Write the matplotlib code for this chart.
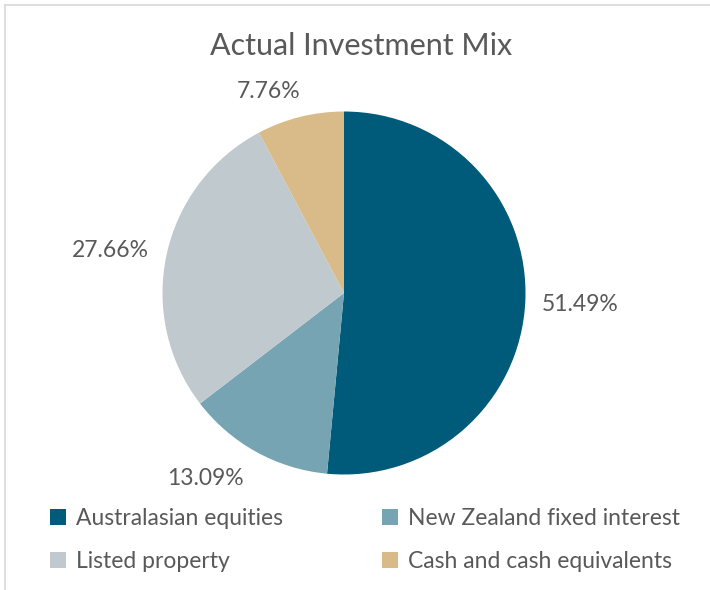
import matplotlib
matplotlib.use("Agg")
import matplotlib.pyplot as plt
import numpy as np
from matplotlib.patches import Patch
from matplotlib.lines import Line2D

categories = ["Australasian equities", "New Zealand fixed interest",
              "Listed property", "Cash and cash equivalents"]
values = [51.49, 13.09, 27.66, 7.76]
labels = ["51.49%", "13.09%", "27.66%", "7.76%"]
colors = ["#005A7A", "#76A4B2", "#C0C9CE", "#D9BB89"]

# label placement (distance in radii, angular nudge in degrees)
label_dist = [1.30, 1.275, 1.31, 1.183]
label_nudge = [0.0, -7.8, 2.0, 6.6]

plt.rcParams['font.family'] = ['Lato', 'DejaVu Sans']
text_color = "#595959"

fig = plt.figure(figsize=(7.1, 5.9), dpi=100)
fig.patch.set_facecolor("white")

# border (top and left visible)
fig.add_artist(Line2D([5/710, 1.0], [1 - 4.5/590, 1 - 4.5/590], color="#D9D9D9", lw=1.2, transform=fig.transFigure))
fig.add_artist(Line2D([4.5/710, 4.5/710], [0, 1 - 4.5/590], color="#D9D9D9", lw=1.2, transform=fig.transFigure))

cx, cy, r = 344, 590 - 293, 181.5
ax = fig.add_axes([(cx - r) / 710, (cy - r) / 590, 2 * r / 710, 2 * r / 590])
wedges, _ = ax.pie(values, colors=colors, startangle=90, counterclock=False,
                   wedgeprops=dict(linewidth=0), radius=1)
ax.set_xlim(-1, 1)
ax.set_ylim(-1, 1)
ax.set_aspect("equal")
ax.axis("off")

for w, lab, d, nd in zip(wedges, labels, label_dist, label_nudge):
    ang = np.deg2rad((w.theta1 + w.theta2) / 2 + nd)
    ax.text(d * np.cos(ang), d * np.sin(ang), lab, ha="center", va="center",
            fontsize=16.5, color=text_color, clip_on=False)

fig.text(361 / 710, 1 - 46 / 590, "Actual Investment Mix", ha="center", va="center",
         fontsize=22, color=text_color, fontweight="normal")

# legend filled row-wise: row1 = items 0,1 ; row2 = items 2,3
order = [0, 2, 1, 3]
handles = [Patch(facecolor=colors[i], edgecolor="none") for i in order]
leg_labels = [categories[i] for i in order]
leg = fig.legend(handles, leg_labels, ncol=2, loc="center",
                 bbox_to_anchor=(365 / 710, 50 / 590), frameon=False,
                 fontsize=16.5, handlelength=0.7, handleheight=0.7,
                 handletextpad=0.44, columnspacing=4.3, labelspacing=0.95)
for t in leg.get_texts():
    t.set_color(text_color)

fig.savefig("out.png", dpi=100)
